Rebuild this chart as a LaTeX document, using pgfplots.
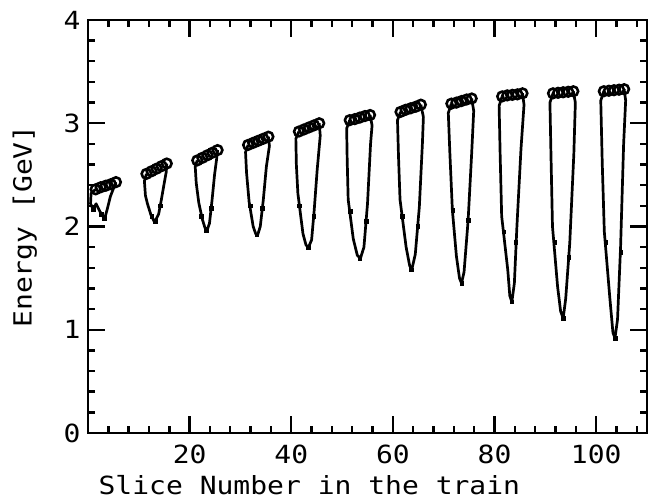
\documentclass[border=0pt]{standalone}
\usepackage{fontspec}
\setmainfont{DejaVu Sans Mono}[FakeStretch=1.12]
\usepackage{pgfplots}
\pgfplotsset{compat=1.18}
\newcommand{\bigfont}{\fontsize{25}{30}\selectfont}

\begin{document}
\begin{tikzpicture}
\useasboundingbox (-88pt,-67pt) rectangle (562pt,433pt);
\begin{axis}[
  scale only axis,
  width=559pt, height=413pt,
  xmin=0, xmax=110, ymin=0, ymax=4,
  xtick={20,40,60,80,100},
  ytick={0,1,2,3,4},
  minor xtick={4,8,...,108},
  minor y tick num=4,
  major tick length=17pt,
  minor tick length=7pt,
  every tick/.style={line width=2.4pt, black},
  axis line style={line width=2.8pt},
  /pgf/number format/assume math mode=true,
  tick label style={font=\bigfont},
  xticklabel style={anchor=center, yshift=-21pt},
  yticklabel style={anchor=center, xshift=-16pt},
  xlabel={Slice Number in the train},
  ylabel={Energy [GeV]},
  xlabel style={at={(axis description cs:0.396,-0.126)}, anchor=center, font=\bigfont},
  ylabel style={at={(axis description cs:-0.113,0.5)}, anchor=center, font=\bigfont},
  trace/.style={black, line width=2.7pt, no marks, line join=round},
]
% energy trace through each bunch (one loop per group of slices)
\addplot[trace] coordinates {(1.5,2.36) (0.6,2.32) (0.5,2.22) (1.0,2.17) (1.6,2.22) (2.3,2.15) (2.9,2.10) (3.3,2.08) (3.8,2.17) (4.4,2.29) (5.1,2.38) (5.5,2.43)};
\addplot[trace] coordinates {(11.5,2.51) (11.1,2.44) (11.3,2.30) (11.7,2.22) (12.4,2.11) (13.0,2.05) (13.4,2.07) (13.9,2.12) (14.4,2.25) (15.0,2.42) (15.4,2.53) (15.5,2.61)};
\addplot[trace] coordinates {(21.5,2.64) (21.1,2.58) (21.3,2.42) (21.8,2.23) (22.5,2.07) (23.0,1.99) (23.4,1.96) (23.9,2.03) (24.4,2.25) (24.9,2.50) (25.3,2.65) (25.5,2.74)};
\addplot[trace] coordinates {(31.5,2.79) (31.0,2.72) (31.2,2.52) (31.7,2.24) (32.5,2.00) (33.0,1.93) (33.4,1.92) (33.9,2.00) (34.5,2.26) (35.1,2.58) (35.7,2.78) (35.5,2.87)};
\addplot[trace] coordinates {(41.5,2.92) (40.9,2.85) (41.0,2.60) (41.3,2.32) (42.3,1.93) (42.9,1.82) (43.4,1.80) (44.0,1.87) (44.5,2.15) (45.1,2.55) (45.7,2.88) (45.5,3.00)};
\addplot[trace] coordinates {(51.5,3.03) (50.9,2.95) (51.0,2.65) (51.2,2.26) (52.2,1.88) (53.0,1.72) (53.6,1.69) (54.3,1.80) (55.0,2.22) (55.6,2.80) (55.9,2.98) (55.5,3.08)};
\addplot[trace] coordinates {(61.5,3.11) (60.9,3.03) (61.1,2.68) (61.4,2.26) (62.6,1.80) (63.3,1.62) (63.7,1.58) (64.4,1.73) (65.2,2.19) (65.8,2.80) (66.0,3.06) (65.5,3.18)};
\addplot[trace] coordinates {(71.5,3.19) (70.9,3.10) (71.2,2.72) (71.7,2.16) (72.5,1.71) (73.1,1.50) (73.5,1.45) (74.0,1.56) (74.8,2.06) (75.5,2.71) (75.9,3.12) (75.5,3.24)};
\addplot[trace] coordinates {(81.5,3.26) (80.9,3.17) (81.1,2.70) (81.4,2.10) (82.6,1.58) (83.0,1.33) (83.4,1.27) (83.9,1.45) (84.4,2.00) (85.2,2.75) (85.8,3.18) (85.5,3.29)};
\addplot[trace] coordinates {(91.5,3.29) (90.9,3.20) (91.1,2.70) (91.4,2.00) (92.4,1.42) (93.0,1.18) (93.5,1.11) (94.0,1.30) (94.8,1.84) (95.6,2.70) (95.9,3.20) (95.5,3.31)};
\addplot[trace] coordinates {(101.5,3.31) (100.9,3.22) (101.2,2.60) (101.6,1.95) (102.7,1.30) (103.3,0.97) (103.7,0.92) (104.2,1.10) (104.8,1.80) (105.4,2.80) (105.8,3.22) (105.5,3.33)};
% small measurement dots along the traces
\addplot[only marks, black, mark=square*, mark size=1.8pt] coordinates {
  (1.0,2.17) (3.2,2.08) (2.6,2.12)
  (12.5,2.10) (13.2,2.05) (14.2,2.20)
  (22.3,2.10) (23.3,1.96) (24.2,2.18)
  (31.9,2.20) (33.2,1.92) (34.3,2.18)
  (41.6,2.20) (43.3,1.80) (44.4,2.10)
  (51.6,2.15) (53.5,1.69) (54.7,2.05)
  (61.8,2.10) (63.6,1.58) (64.9,2.00)
  (71.8,2.16) (73.5,1.45) (74.8,2.06)
  (81.8,1.95) (83.4,1.27) (84.2,1.85)
  (91.8,1.85) (93.5,1.11) (94.6,1.70)
  (101.9,1.85) (103.7,0.92) (104.8,1.75)};
% slice energies (open circles)
\addplot[only marks, black, mark=o, mark size=4.8pt, mark options={line width=2.6pt}] coordinates {
  (1.5,2.36) (2.5,2.38) (3.5,2.395) (4.5,2.41) (5.5,2.43)
  (11.5,2.51) (12.5,2.535) (13.5,2.56) (14.5,2.585) (15.5,2.61)
  (21.5,2.64) (22.5,2.665) (23.5,2.69) (24.5,2.715) (25.5,2.74)
  (31.5,2.79) (32.5,2.81) (33.5,2.83) (34.5,2.85) (35.5,2.87)
  (41.5,2.92) (42.5,2.94) (43.5,2.96) (44.5,2.98) (45.5,3.00)
  (51.5,3.03) (52.5,3.04) (53.5,3.055) (54.5,3.07) (55.5,3.08)
  (61.5,3.11) (62.5,3.13) (63.5,3.145) (64.5,3.16) (65.5,3.18)
  (71.5,3.19) (72.5,3.20) (73.5,3.215) (74.5,3.23) (75.5,3.24)
  (81.5,3.26) (82.5,3.27) (83.5,3.275) (84.5,3.28) (85.5,3.29)
  (91.5,3.29) (92.5,3.295) (93.5,3.30) (94.5,3.305) (95.5,3.31)
  (101.5,3.31) (102.5,3.315) (103.5,3.32) (104.5,3.325) (105.5,3.33)};
\end{axis}
\end{tikzpicture}
\end{document}
